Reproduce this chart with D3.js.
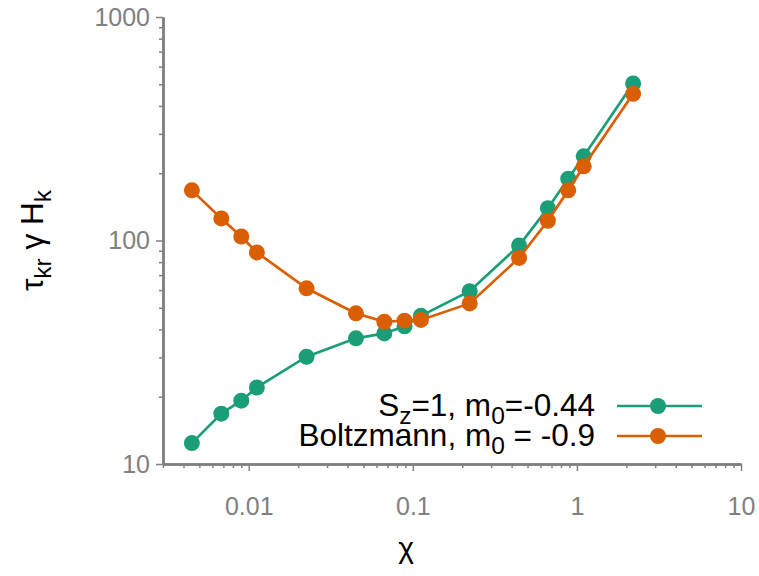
<!DOCTYPE html>
<html>
<head>
<meta charset="utf-8">
<script src="https://cdn.jsdelivr.net/npm/d3@7"></script>
<style>
  html, body { margin: 0; padding: 0; background: #fff; }
  svg { display: block; }
  text { font-family: "Liberation Sans", Arial, Helvetica, sans-serif; }
</style>
</head>
<body>
<svg id="chart" width="759" height="576"></svg>
<script>
// ---- data ----
const chi = [0.0045, 0.0068, 0.009, 0.0112, 0.0225, 0.045, 0.067, 0.089, 0.112, 0.222, 0.444, 0.665, 0.885, 1.1, 2.2];
const sz1 = [12.4, 16.8, 19.2, 22.0, 30.2, 36.5, 38.4, 41.3, 46.0, 59.3, 95.0, 139.5, 189, 238, 504];
const boltz = [167.6, 125.5, 104.2, 88.4, 61.1, 47.2, 43.3, 43.8, 44.1, 52.3, 83.6, 122.6, 167.6, 214.7, 453];
const xTicks = [0.01, 0.1, 1, 10];
const yTicks = [10, 100, 1000];
const seriesNames = ["S_z=1, m_0=-0.44", "Boltzmann, m_0 = -0.9"];
const colors = ["#1b9e77", "#d95f02"];

// ---- layout ----
const W = 759, H = 576;
const L = 163, R = 741, T = 17, B = 464;
const axisColor = "#808080";
const fs = 25;     // tick labels
const fsL = 31.5;  // legend and axis titles

const svg = d3.select("#chart");
const x = d3.scaleLog().domain([0.003, 10]).range([L, R]);
const y = d3.scaleLog().domain([10, 1000]).range([B, T]);

// minor ticks
const xMinor = [];
for (let e = -3; e <= 0; e++) for (let m = 2; m <= 9; m++) { const v = m * Math.pow(10, e); if (v >= 0.003 && v <= 10) xMinor.push(v); }
const yMinor = [];
for (let e = 1; e <= 2; e++) for (let m = 2; m <= 9; m++) yMinor.push(m * Math.pow(10, e));

function styleAxis(g) {
  g.selectAll("path.domain").attr("stroke", axisColor).attr("stroke-width", 2.5);
  g.selectAll(".tick line").attr("stroke", axisColor).attr("stroke-width", 1.5);
  g.selectAll(".tick text").attr("fill", axisColor).attr("font-size", fs)
    .attr("font-family", '"Liberation Sans", Arial, sans-serif');
}

svg.append("g").attr("transform", `translate(0,${B})`)
  .call(d3.axisBottom(x).tickValues(xMinor).tickFormat("").tickSize(4).tickSizeOuter(0))
  .call(styleAxis);
svg.append("g").attr("transform", `translate(${L},0)`)
  .call(d3.axisLeft(y).tickValues(yMinor).tickFormat("").tickSize(4).tickSizeOuter(0))
  .call(styleAxis);
svg.append("g").attr("transform", `translate(0,${B})`)
  .call(d3.axisBottom(x).tickValues(xTicks).tickFormat(d => String(d)).tickSize(7).tickPadding(26).tickSizeOuter(0))
  .call(styleAxis);
svg.append("g").attr("transform", `translate(${L},0)`)
  .call(d3.axisLeft(y).tickValues(yTicks).tickFormat(d => String(d)).tickSize(7).tickPadding(6).tickSizeOuter(0))
  .call(styleAxis);

// ---- series ----
const series = [sz1, boltz];
const line = d3.line().x(d => x(d[0])).y(d => y(d[1]));
series.forEach((vals, i) => {
  const pts = chi.map((c, j) => [c, vals[j]]);
  svg.append("path").datum(pts).attr("d", line)
    .attr("fill", "none").attr("stroke", colors[i]).attr("stroke-width", 2.7);
  svg.append("g").selectAll("circle").data(pts).join("circle")
    .attr("cx", d => x(d[0])).attr("cy", d => y(d[1])).attr("r", 8)
    .attr("fill", colors[i]);
});

// ---- legend ----
function richText(sel, str, size) {
  const parts = str.split(/_(\w)/);
  parts.forEach((p, k) => {
    if (!p) return;
    if (k % 2 === 1) {
      sel.append("tspan").attr("baseline-shift", "-30%").attr("font-size", size * 0.78).text(p);
    } else {
      sel.append("tspan").text(p);
    }
  });
}
const legY = [406, 436];
seriesNames.forEach((name, i) => {
  const t = svg.append("text").attr("x", 595).attr("y", legY[i] + 10)
    .attr("text-anchor", "end").attr("font-size", fsL).attr("fill", "#000");
  richText(t, name, fsL);
  svg.append("line").attr("x1", 617).attr("x2", 702).attr("y1", legY[i]).attr("y2", legY[i])
    .attr("stroke", colors[i]).attr("stroke-width", 2.7);
  svg.append("circle").attr("cx", 658).attr("cy", legY[i]).attr("r", 8).attr("fill", colors[i]);
});

// ---- axis labels ----
svg.append("text").attr("x", 406).attr("y", 558).attr("text-anchor", "middle")
  .attr("font-family", '"DejaVu Sans", sans-serif')
  .attr("font-size", 30).attr("fill", "#000").text("χ");

const yl = svg.append("text").attr("transform", `translate(43,${(T + B) / 2}) rotate(-90)`)
  .attr("text-anchor", "middle").attr("font-size", fsL).attr("fill", "#000");
yl.append("tspan").text("τ");
yl.append("tspan").attr("baseline-shift", "-30%").attr("font-size", fsL * 0.78).text("kr");
yl.append("tspan").text(" γ H");
yl.append("tspan").attr("baseline-shift", "-30%").attr("font-size", fsL * 0.78).text("k");
</script>
</body>
</html>
